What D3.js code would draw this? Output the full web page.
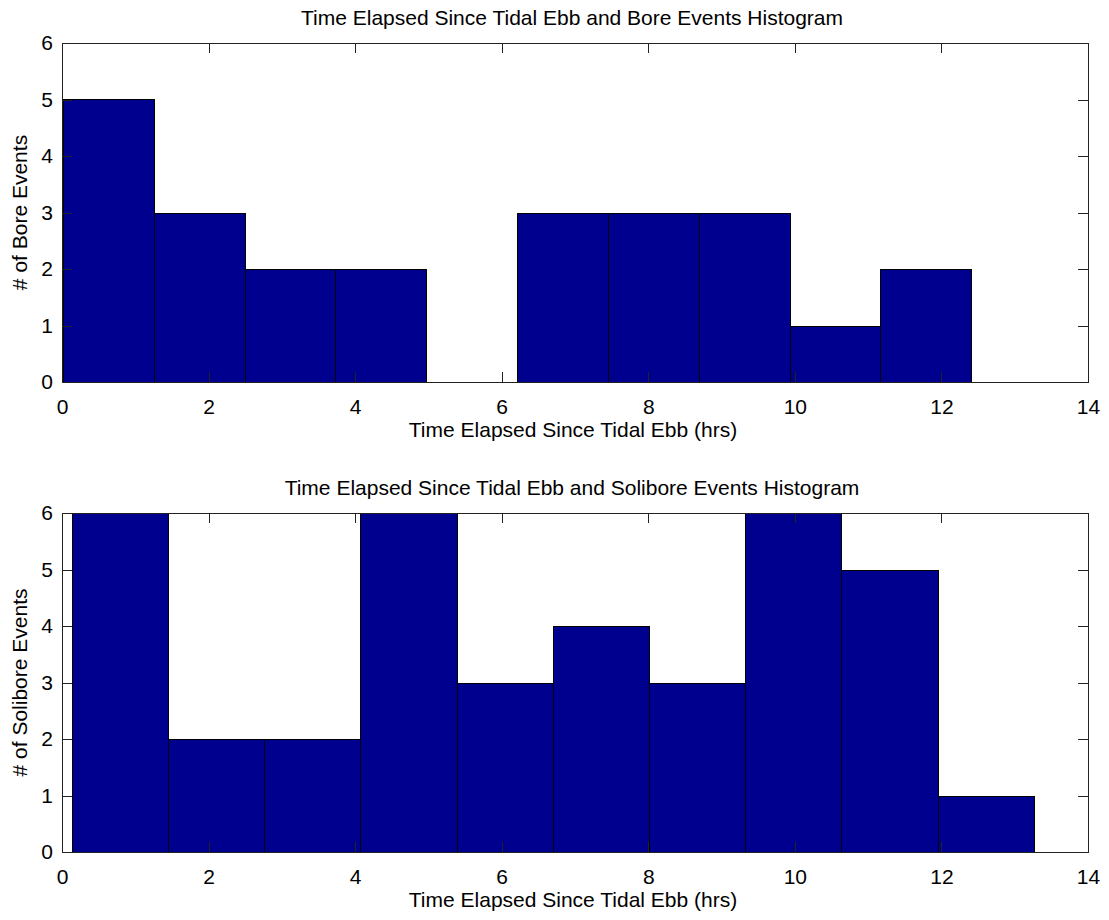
<!DOCTYPE html>
<html>
<head>
<meta charset="utf-8">
<script src="https://cdn.jsdelivr.net/npm/d3@7"></script>
<style>
  body { margin: 0; background: #fff; }
  text { font-family: "Liberation Sans", Arial, Helvetica, sans-serif; fill: #000; }
</style>
</head>
<body>
<div id="chart"></div>
<script>
// bin edges (hrs) and counts
var boreEdges = [0.02, 1.26, 2.50, 3.73, 4.97, 6.21, 7.45, 8.69, 9.93, 11.16, 12.40];
var boreCounts = [5, 3, 2, 2, 0, 3, 3, 3, 1, 2];

var soliEdges = [0.14, 1.45, 2.76, 4.07, 5.39, 6.70, 8.01, 9.32, 10.63, 11.95, 13.26];
var soliCounts = [6, 2, 2, 6, 3, 4, 3, 6, 5, 1];

var xTicks = [0, 2, 4, 6, 8, 10, 12, 14];
var yTicks = [0, 1, 2, 3, 4, 5, 6];

var titles = ["Time Elapsed Since Tidal Ebb and Bore Events Histogram",
              "Time Elapsed Since Tidal Ebb and Solibore Events Histogram"];
var xLabel = "Time Elapsed Since Tidal Ebb (hrs)";
var yLabels = ["# of Bore Events", "# of Solibore Events"];

var width = 1109, height = 920;
var barColor = "#00008f";

var svg = d3.select("#chart").append("svg")
    .attr("width", width)
    .attr("height", height);

var x = d3.scaleLinear().domain([0, 14]).range([62, 1088]);

function histPanel(idx, top, bottom, edges, counts){
    var y = d3.scaleLinear().domain([0, 6]).range([bottom, top]);
    var g = svg.append("g");

    var clipId = "clip" + idx;
    g.append("clipPath").attr("id", clipId)
        .append("rect")
        .attr("x", x(0)).attr("y", top)
        .attr("width", x(14) - x(0)).attr("height", bottom - top);

    var bins = counts.map(function(c, i){
        return {x0: edges[i], x1: edges[i + 1], n: c};
    });

    g.append("g").attr("clip-path", "url(#" + clipId + ")")
        .selectAll("rect")
        .data(bins.filter(function(d){ return d.n > 0; }))
        .enter().append("rect")
        .attr("x", function(d){ return Math.round(x(d.x0)) + 0.5; })
        .attr("y", function(d){ return Math.round(y(d.n)) + 0.5; })
        .attr("width", function(d){ return Math.round(x(d.x1)) - Math.round(x(d.x0)); })
        .attr("height", function(d){ return Math.round(y(0)) - Math.round(y(d.n)); })
        .attr("fill", barColor)
        .attr("stroke", "#000")
        .attr("stroke-width", 1);

    // axes, ticks inward on all four sides
    var tickLen = 10;
    var axB = d3.axisBottom(x).tickValues(xTicks).tickSizeInner(-tickLen).tickSizeOuter(0).tickPadding(17).tickFormat(d3.format("d"));
    var axT = d3.axisTop(x).tickValues(xTicks).tickSizeInner(-tickLen).tickSizeOuter(0).tickFormat("");
    var axL = d3.axisLeft(y).tickValues(yTicks).tickSizeInner(-tickLen).tickSizeOuter(0).tickPadding(9).tickFormat(d3.format("d"));
    var axR = d3.axisRight(y).tickValues(yTicks).tickSizeInner(-tickLen).tickSizeOuter(0).tickFormat("");

    [[axB, "translate(0," + bottom + ")"],
     [axT, "translate(0," + top + ")"],
     [axL, "translate(" + x(0) + ",0)"],
     [axR, "translate(" + x(14) + ",0)"]].forEach(function(a){
        var ag = g.append("g").attr("transform", a[1]).call(a[0]);
        ag.select(".domain").remove();
        ag.selectAll("line").attr("stroke", "#222").attr("shape-rendering", "crispEdges");
        ag.selectAll("text").style("font-size", "21px").attr("fill", "#000")
            .style("font-family", "'Liberation Sans', Arial, sans-serif");
    });

    g.append("rect")
        .attr("x", x(0)).attr("y", top)
        .attr("width", x(14) - x(0)).attr("height", bottom - top)
        .attr("fill", "none")
        .attr("stroke", "#222")
        .attr("shape-rendering", "crispEdges");

    g.append("text")
        .attr("x", (x(0) + x(14)) / 2 - 3)
        .attr("y", top - 18)
        .attr("text-anchor", "middle")
        .style("font-size", "21px")
        .text(titles[idx]);

    g.append("text")
        .attr("x", (x(0) + x(14)) / 2 - 2)
        .attr("y", bottom + 55)
        .attr("text-anchor", "middle")
        .style("font-size", "21px")
        .text(xLabel);

    g.append("text")
        .attr("transform", "translate(27," + ((top + bottom) / 2) + ") rotate(-90)")
        .attr("text-anchor", "middle")
        .style("font-size", "21px")
        .text(yLabels[idx]);
}

histPanel(0, 43, 382, boreEdges, boreCounts);
histPanel(1, 513, 852, soliEdges, soliCounts);
</script>
</body>
</html>
